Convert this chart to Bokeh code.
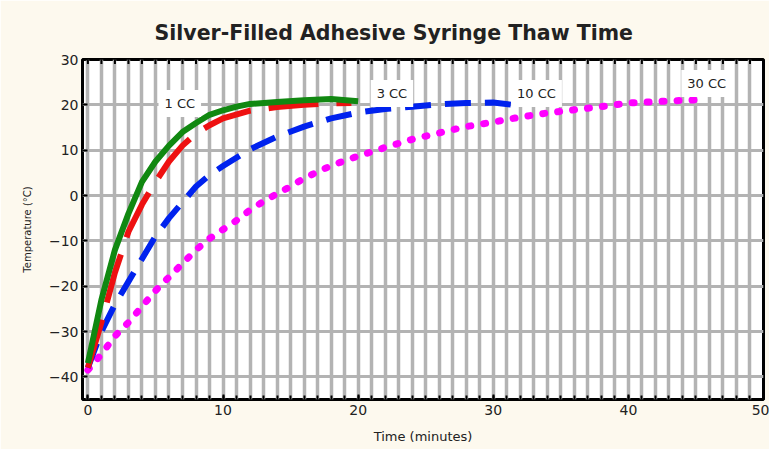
import math
from bokeh.plotting import figure
from bokeh.models import Range1d, SingleIntervalTicker, Label
from bokeh.embed import file_html
from bokeh.resources import INLINE

# ---- data ----
t_1cc = [0, 1, 2, 3, 4, 5, 6, 7, 8, 9, 10, 11, 12, 14, 16, 18, 20]
temp_1cc = [-37, -23, -12, -4, 3, 7.5, 11, 14, 16, 17.8, 18.8, 19.6, 20.2, 20.6, 21, 21.3, 20.8]

t_3cc = [0, 1, 2, 3, 4, 5, 6, 7, 8, 9, 10, 12, 14, 16, 18, 19.5]
temp_3cc = [-38, -28, -17, -8, -2, 3, 7.5, 11, 13.7, 15.5, 17, 18.7, 19.5, 20, 20.3, 20.4]

t_10cc = [0, 1, 2, 3, 4, 5, 6, 7, 8, 9, 10, 12, 14, 16, 18, 20, 22, 24, 26, 28, 30, 32]
temp_10cc = [-38, -30, -24, -19, -14, -9, -5, -1.5, 2, 4.5, 6.5, 10.2, 13, 15.2, 17, 18.3,
             19.1, 19.6, 20.1, 20.4, 20.5, 19.8]

t_30cc = [0, 1, 2, 3, 4, 5, 6, 7, 8, 9, 10, 11, 12, 13, 14, 15, 16, 18, 20, 22, 24, 26, 28,
          30, 32, 34, 36, 38, 40, 42, 45]
temp_30cc = [-38.5, -35, -31, -28, -24.5, -21, -18, -15, -12, -9.5, -7.5, -5.5, -3.2, -1.3,
             0.4, 2, 3.8, 6.6, 8.7, 10.6, 12.4, 13.8, 15.2, 16.2, 17.3, 18.2, 18.9, 19.6,
             20.4, 20.7, 21.1]

series_names = ["1 CC", "3 CC", "10 CC", "30 CC"]
minute_ticks = list(range(0, 51))

TITLE = "Silver-Filled Adhesive Syringe Thaw Time"
X_LABEL = "Time (minutes)"
Y_LABEL = "Temperature (\u00b0C)"

FONT = "DejaVu Sans"
CREAM = "#FDF9EE"
GRID = "#b3b3b3"
INK = "#222222"

p = figure(
    frame_width=681, frame_height=340,
    min_border_left=82, min_border_right=6, min_border_top=59, min_border_bottom=50,
    x_range=Range1d(-0.4, 50), y_range=Range1d(-45, 30),
    output_backend="svg", toolbar_location=None,
    background_fill_color="white", border_fill_color=CREAM,
    title=TITLE,
)

p.title.text_font = FONT
p.title.text_font_size = "20.5px"
p.title.text_font_style = "bold"
p.title.text_color = INK
p.title.align = "left"
p.title.offset = 72
p.title.standoff = 30

p.outline_line_color = "black"
p.outline_line_width = 3

# axes
p.xaxis.ticker = SingleIntervalTicker(interval=10, num_minor_ticks=10)
p.xaxis.axis_line_color = None
p.xaxis.major_tick_in = 5
p.xaxis.major_tick_out = 0
p.xaxis.minor_tick_in = 4
p.xaxis.minor_tick_out = 0
p.xaxis.major_tick_line_width = 2
p.xaxis.minor_tick_line_width = 2
p.xaxis.major_label_standoff = 5
p.xaxis.major_label_text_font = FONT
p.xaxis.major_label_text_font_size = "14px"
p.xaxis.major_label_text_color = INK
p.xaxis.axis_label = X_LABEL
p.xaxis.axis_label_text_font = FONT
p.xaxis.axis_label_text_font_size = "13px"
p.xaxis.axis_label_text_font_style = "normal"
p.xaxis.axis_label_text_color = INK
p.xaxis.axis_label_standoff = 11

p.yaxis.ticker = SingleIntervalTicker(interval=10, num_minor_ticks=0)
p.yaxis.axis_line_color = None
p.yaxis.major_tick_in = 5
p.yaxis.major_tick_out = 0
p.yaxis.major_tick_line_width = 2
p.yaxis.minor_tick_line_color = None
p.yaxis.major_label_standoff = 4
p.yaxis.major_label_text_font = FONT
p.yaxis.major_label_text_font_size = "14px"
p.yaxis.major_label_text_color = INK
p.yaxis.axis_label = Y_LABEL
p.yaxis.axis_label_text_font = FONT
p.yaxis.axis_label_text_font_size = "10px"
p.yaxis.axis_label_text_font_style = "normal"
p.yaxis.axis_label_text_color = INK
p.yaxis.axis_label_standoff = 13

# grid
p.xgrid.ticker = SingleIntervalTicker(interval=1)
p.xgrid.grid_line_color = GRID
p.xgrid.grid_line_width = 3.5
p.ygrid.ticker = SingleIntervalTicker(interval=10)
p.ygrid.grid_line_color = GRID
p.ygrid.grid_line_width = 3

# inward minute ticks along the top edge of the frame
p.scatter(minute_ticks, [p.y_range.end] * len(minute_ticks), marker="dash",
          angle=math.pi / 2, size=9, line_color="black", line_width=2)

# series
p.line(t_30cc, temp_30cc, line_color="#ff00ff", line_width=7, line_dash="2 13", line_cap="round")
p.line(t_10cc, temp_10cc, line_color="#0022ee", line_width=6, line_dash="26 14")
p.line(t_3cc, temp_3cc, line_color="#ee1111", line_width=6, line_dash="50 18")
p.line(t_1cc, temp_1cc, line_color="#118811", line_width=6)

label_pos = [(6.8, 20.3), (22.5, 22.5), (33.2, 22.5), (45.8, 24.7)]
for name, (lx, ly) in zip(series_names, label_pos):
    p.add_layout(Label(x=lx, y=ly, text=name, text_align="center", text_baseline="middle",
                       text_font=FONT, text_font_size="13px", text_color=INK,
                       background_fill_color="white", padding=6))

open("out.html", "w").write(file_html(p, INLINE))
